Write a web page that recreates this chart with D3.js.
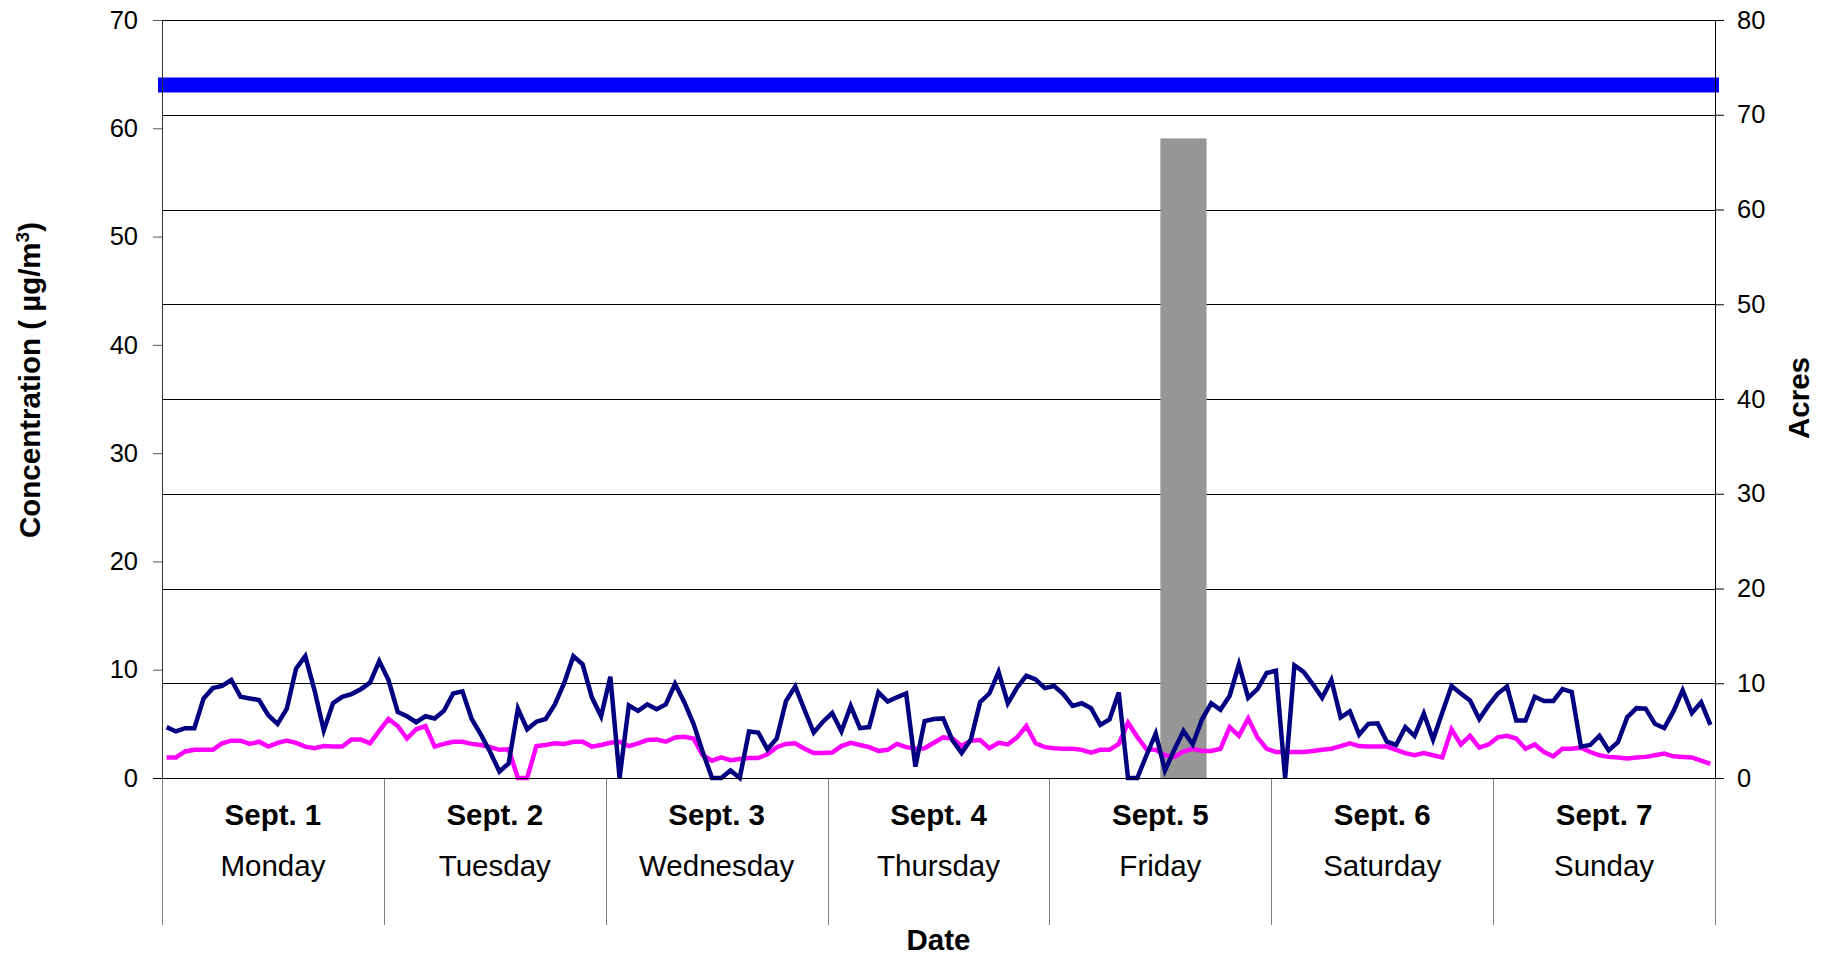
<!DOCTYPE html>
<html>
<head>
<meta charset="utf-8">
<script src="https://cdn.jsdelivr.net/npm/d3@7/dist/d3.min.js"></script>
<style>
  body { margin: 0; background: #fff; }
  svg { display: block; font-family: "Liberation Sans", Arial, sans-serif; }
</style>
</head>
<body>
<svg id="chart" width="1828" height="955"></svg>
<script>
// hourly concentrations, Sept 1 00h .. Sept 7 23h (168 values)
var concNavy = [
  4.7, 4.3, 4.6, 4.6, 7.35, 8.3, 8.5, 9.05, 7.5, 7.35, 7.2, 5.8, 5.0, 6.4, 10.1, 11.25, 8.1, 4.4, 6.9, 7.5, 7.75, 8.2, 8.8, 10.8,
  9.05, 6.1, 5.7, 5.15, 5.7, 5.5, 6.2, 7.8, 8.0, 5.45, 4.0, 2.4, 0.6, 1.35, 6.4, 4.5, 5.2, 5.45, 6.8, 8.75, 11.25, 10.5, 7.45, 5.7,
  9.35, 0, 6.7, 6.2, 6.8, 6.35, 6.8, 8.7, 7.0, 5.0, 2.4, 0, 0, 0.7, 0, 4.3, 4.2, 2.65, 3.65, 7.1, 8.45, 6.3, 4.2, 5.2,
  6.0, 4.3, 6.65, 4.6, 4.7, 7.9, 7.05, 7.45, 7.8, 1.05, 5.25, 5.45, 5.5, 3.5, 2.3, 3.55, 7.0, 7.8, 9.8, 6.9, 8.35, 9.45, 9.1, 8.3,
  8.5, 7.75, 6.65, 6.9, 6.45, 4.9, 5.4, 7.9, 0, 0, 2.1, 4.1, 0.7, 2.6, 4.35, 3.1, 5.4, 6.9, 6.3, 7.6, 10.5, 7.4, 8.2, 9.7,
  9.9, 0, 10.4, 9.8, 8.65, 7.4, 9.05, 5.6, 6.15, 4.0, 5.0, 5.05, 3.35, 3.05, 4.7, 3.9, 5.95, 3.55, 6.05, 8.5, 7.8, 7.15, 5.45, 6.7,
  7.8, 8.45, 5.3, 5.3, 7.5, 7.1, 7.1, 8.2, 7.95, 2.9, 3.05, 3.9, 2.55, 3.3, 5.6, 6.45, 6.4, 5.0, 4.6, 6.15, 8.1, 6.0, 7.0, 4.9
];

var concPink = [
  1.9, 1.9, 2.45, 2.6, 2.6, 2.6, 3.2, 3.45, 3.45, 3.15, 3.35, 2.9, 3.25, 3.45, 3.25, 2.9, 2.75, 2.95, 2.9, 2.9, 3.55, 3.55, 3.2, 4.35,
  5.45, 4.8, 3.65, 4.5, 4.8, 2.9, 3.15, 3.35, 3.35, 3.15, 3.05, 2.85, 2.6, 2.65, 0, 0, 2.95, 3.05, 3.2, 3.15, 3.35, 3.35, 2.9, 3.05,
  3.25, 3.35, 2.95, 3.2, 3.5, 3.55, 3.35, 3.75, 3.8, 3.65, 2.1, 1.6, 1.9, 1.65, 1.75, 1.85, 1.85, 2.2, 2.85, 3.15, 3.2, 2.7, 2.3, 2.3,
  2.35, 2.95, 3.25, 3.05, 2.85, 2.5, 2.6, 3.15, 2.85, 2.7, 2.75, 3.25, 3.75, 3.65, 2.95, 3.45, 3.5, 2.75, 3.25, 3.1, 3.75, 4.8, 3.2, 2.85,
  2.75, 2.7, 2.7, 2.6, 2.35, 2.6, 2.6, 3.15, 5.1, 3.8, 2.65, 2.6, 2.1, 1.95, 2.45, 2.7, 2.5, 2.5, 2.7, 4.7, 3.9, 5.5, 3.75, 2.7,
  2.4, 2.4, 2.4, 2.4, 2.5, 2.6, 2.7, 2.95, 3.2, 2.95, 2.9, 2.9, 2.9, 2.6, 2.3, 2.1, 2.3, 2.1, 1.9, 4.5, 3.1, 3.9, 2.8, 3.1,
  3.75, 3.9, 3.65, 2.7, 3.1, 2.4, 2.0, 2.7, 2.7, 2.8, 2.4, 2.1, 1.95, 1.9, 1.8, 1.9, 1.95, 2.1, 2.25, 2.0, 1.95, 1.9, 1.6, 1.3
];

var dates = ["Sept. 1", "Sept. 2", "Sept. 3", "Sept. 4", "Sept. 5", "Sept. 6", "Sept. 7"];
var weekdays = ["Monday", "Tuesday", "Wednesday", "Thursday", "Friday", "Saturday", "Sunday"];

var concTicks = [0, 10, 20, 30, 40, 50, 60, 70];
var acreTicks = [0, 10, 20, 30, 40, 50, 60, 70, 80];

var standardLevel = [64];
// burned area, first and last hour of the bar
var fireBars = [{ start: 108, end: 112, acres: 67.5 }];

var svg = d3.select("#chart");

var plotLeft = 162, plotRight = 1715, plotTop = 20, plotBottom = 778, labelFloor = 925;

var x = d3.scaleBand().domain(d3.range(concNavy.length)).range([plotLeft, plotRight]);
var xDay = d3.scaleBand().domain(dates).range([plotLeft, plotRight]);
var yConc = d3.scaleLinear().domain([0, 70]).range([plotBottom, plotTop]);
var yAcres = d3.scaleLinear().domain([0, 80]).range([plotBottom, plotTop]);

// grid lines follow the acres axis
svg.append("g").selectAll("line")
  .data(acreTicks)
  .enter().append("line")
  .attr("x1", plotLeft)
  .attr("x2", plotRight)
  .attr("y1", function (d) { return Math.round(yAcres(d)) + 0.5; })
  .attr("y2", function (d) { return Math.round(yAcres(d)) + 0.5; })
  .style("stroke", "#000")
  .style("stroke-width", 1);

// fire bar
svg.append("g").selectAll("rect")
  .data(fireBars)
  .enter().append("rect")
  .attr("x", function (d) { return x(d.start); })
  .attr("width", function (d) { return x(d.end) + x.bandwidth() - x(d.start); })
  .attr("y", function (d) { return yAcres(d.acres); })
  .attr("height", function (d) { return plotBottom - yAcres(d.acres); })
  .style("fill", "#969696");

// standard line
svg.append("g").selectAll("line")
  .data(standardLevel)
  .enter().append("line")
  .attr("x1", plotLeft - 4)
  .attr("x2", plotRight + 4)
  .attr("y1", function (d) { return yConc(d); })
  .attr("y2", function (d) { return yConc(d); })
  .style("stroke", "#0000ff")
  .style("stroke-width", 15);

var line = d3.line()
  .x(function (d, i) { return x(i) + x.bandwidth() / 2; })
  .y(function (d) { return yConc(d); });

svg.append("path")
  .datum(concPink)
  .attr("d", line)
  .style("fill", "none")
  .style("stroke", "#ff00ff")
  .style("stroke-width", 4.5);

svg.append("path")
  .datum(concNavy)
  .attr("d", line)
  .style("fill", "none")
  .style("stroke", "#000080")
  .style("stroke-width", 4.5);

// axes
var leftAxis = svg.append("g")
  .attr("transform", "translate(" + plotLeft + ",0)")
  .call(d3.axisLeft(yConc).tickValues(concTicks).tickSize(9).tickSizeOuter(0).tickPadding(15));

var rightAxis = svg.append("g")
  .attr("transform", "translate(" + plotRight + ",0)")
  .call(d3.axisRight(yAcres).tickValues(acreTicks).tickSize(9).tickSizeOuter(0).tickPadding(13));

[leftAxis, rightAxis].forEach(function (g) {
  g.selectAll("text")
    .style("font-size", "25.5px")
    .style("font-family", "'Liberation Sans', Arial, sans-serif")
    .style("fill", "#000");
  g.selectAll("line").style("stroke", "#000");
  g.select(".domain").style("stroke", "#000");
});
leftAxis.selectAll("line").style("stroke", "#555");
leftAxis.select(".domain").style("stroke", "#333");

// day separators under the plot
var edges = dates.map(function (d) { return xDay(d); }).concat([plotRight]);
svg.append("g").selectAll("line")
  .data(edges)
  .enter().append("line")
  .attr("x1", function (d) { return Math.round(d) + 0.5; })
  .attr("x2", function (d) { return Math.round(d) + 0.5; })
  .attr("y1", plotBottom)
  .attr("y2", labelFloor)
  .style("stroke", "#808080")
  .style("stroke-width", 1);

// baseline
svg.append("line")
  .attr("x1", plotLeft - 9).attr("x2", plotRight + 9)
  .attr("y1", plotBottom + 0.5).attr("y2", plotBottom + 0.5)
  .style("stroke", "#000");

svg.append("g").selectAll("text")
  .data(dates)
  .enter().append("text")
  .attr("x", function (d) { return xDay(d) + xDay.bandwidth() / 2; })
  .attr("y", 825)
  .attr("text-anchor", "middle")
  .style("font-size", "29.5px")
  .style("font-weight", "bold")
  .text(function (d) { return d; });

svg.append("g").selectAll("text")
  .data(weekdays)
  .enter().append("text")
  .attr("x", function (d, i) { return xDay(dates[i]) + xDay.bandwidth() / 2; })
  .attr("y", 876)
  .attr("text-anchor", "middle")
  .style("font-size", "29.5px")
  .text(function (d) { return d; });

// titles
svg.append("text")
  .attr("x", (plotLeft + plotRight) / 2)
  .attr("y", 950)
  .attr("text-anchor", "middle")
  .style("font-size", "29.5px")
  .style("font-weight", "bold")
  .text("Date");

var yTitle = svg.append("text")
  .attr("transform", "translate(40,380) rotate(-90)")
  .attr("text-anchor", "middle")
  .style("font-size", "29.5px")
  .style("font-weight", "bold");
yTitle.append("tspan").text("Concentration ( \u00b5g/m");
yTitle.append("tspan").attr("dy", -11).style("font-size", "19px").text("3");
yTitle.append("tspan").attr("dy", 11).text(")");

svg.append("text")
  .attr("transform", "translate(1809,398) rotate(-90)")
  .attr("text-anchor", "middle")
  .style("font-size", "29.5px")
  .style("font-weight", "bold")
  .text("Acres");
</script>
</body>
</html>
